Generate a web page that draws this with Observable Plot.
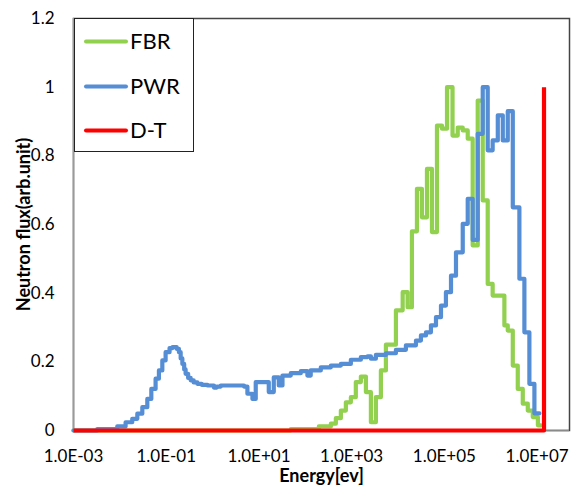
<!DOCTYPE html>
<html>
<head>
<meta charset="utf-8">
<script src="https://cdn.jsdelivr.net/npm/d3@7"></script>
<script src="https://cdn.jsdelivr.net/npm/@observablehq/plot@0.6"></script>
<style>
  html, body { margin: 0; padding: 0; background: #fff; }
  #wrap { position: relative; width: 574px; height: 491px; font-family: Lato, "Open Sans", sans-serif; }
  #legend { position: absolute; left: 74px; top: 18px; width: 120px; height: 134px; box-sizing: border-box; border: 1.5px solid #222; background: #fff; }
</style>
</head>
<body>
<div id="wrap"><div id="legend"></div></div>
<script>
// ---- data ----
const seriesNames = ["FBR", "PWR", "D-T"];
const seriesColors = ["#92D050", "#558ED5", "#FF0000"];

const xTickValues = [1e-3, 1e-1, 1e1, 1e3, 1e5, 1e7];
const xTickLabels = ["1.0E-03", "1.0E-01", "1.0E+01", "1.0E+03", "1.0E+05", "1.0E+07"];
const yTickValues = [0, 0.2, 0.4, 0.6, 0.8, 1, 1.2];
const yTickLabels = ["0", "0.2", "0.4", "0.6", "0.8", "1", "1.2"];

// FBR (bin left edges, eV) and flux
const fbrEnergy = [1e-3, 48.6, 196, 356, 456, 585, 750, 961, 1230, 1580, 2030, 2600, 3330, 4270, 5480, 9010,
  12600, 16100, 19950, 25600, 32800, 42100, 54000, 69200, 88800, 114000, 150000, 194000, 249000, 319000,
  408000, 524000, 672000, 861000, 1.10e6, 1.97e6, 2.33e6, 2.99e6, 3.83e6, 4.91e6, 6.30e6, 8.07e6, 1.04e7, 1.22e7];
const fbrFlux = [0, 0.004, 0.012, 0.02, 0.036, 0.058, 0.082, 0.097, 0.141, 0.157, 0.112, 0.024, 0.097, 0.175, 0.25, 0.35,
  0.403, 0.359, 0.58, 0.704, 0.621, 0.762, 0.578, 0.888, 0.879, 1.0, 0.859, 0.882, 0.874, 0.85,
  0.539, 0.961, 0.67, 0.427, 0.393, 0.306, 0.291, 0.189, 0.121, 0.078, 0.058, 0.039, 0.015, 0.015];

// PWR
const pwrEnergy = [1e-3, 3.25e-3, 8.79e-3, 1.33e-2, 1.85e-2, 2.38e-2, 3.05e-2, 3.91e-2, 4.77e-2, 5.90e-2, 6.96e-2,
  8.24e-2, 9.70e-2, 0.118, 0.137, 0.168, 0.188, 0.205, 0.223, 0.244, 0.262, 0.297, 0.337, 0.391, 0.470, 0.582,
  0.773, 1.07, 1.23, 1.50, 2.46, 4.77, 5.64, 7.24, 8.53, 16.3, 20.9, 26.8, 32.2, 48.6, 80.0, 111, 131, 216, 356,
  585, 961, 1580, 2210, 2600, 3330, 5480, 9010, 14800, 24400, 31200, 40100, 51300, 65900, 84500, 108000,
  139000, 178000, 249000, 319000, 408000, 524000, 672000, 861000, 1.10e6, 1.42e6, 1.82e6, 2.33e6, 2.99e6,
  4.15e6, 5.32e6, 6.82e6, 8.75e6, 1.12e7];
const pwrFlux = [0, 0.004, 0.012, 0.024, 0.034, 0.049, 0.068, 0.092, 0.121, 0.151, 0.175,
  0.204, 0.228, 0.24, 0.243, 0.238, 0.228, 0.21, 0.194, 0.178, 0.165, 0.153, 0.146, 0.14, 0.136, 0.133,
  0.131, 0.125, 0.128, 0.131, 0.131, 0.128, 0.107, 0.092, 0.141, 0.112, 0.155, 0.131, 0.16, 0.167, 0.173, 0.16, 0.175, 0.184, 0.189,
  0.194, 0.206, 0.214, 0.216, 0.209, 0.220, 0.225, 0.235, 0.248, 0.262, 0.277, 0.286, 0.306, 0.330, 0.364, 0.403,
  0.451, 0.519, 0.602, 0.675, 0.555, 0.864, 1.0, 0.816, 0.845, 0.918, 0.845, 0.93, 0.65,
  0.442, 0.286, 0.136, 0.05, 0.05];

// D-T (14.1 MeV line)
const dtEnergy = [1e-3, 1.41e7, 1.41e7];
const dtFlux = [0, 0, 1];

const toRows = (es, fs) => es.map((e, i) => ({e, f: fs[i]}));
const fbr = toRows(fbrEnergy, fbrFlux);
const pwr = toRows(pwrEnergy, pwrFlux);
const dt = toRows(dtEnergy, dtFlux);

const lineStyle = {strokeWidth: 4.2, strokeLinejoin: "round", strokeLinecap: "round"};

const chart = Plot.plot({
  width: 574,
  height: 491,
  marginLeft: 73,
  marginRight: 5,
  marginTop: 18,
  marginBottom: 61,
  style: {fontFamily: "Lato, 'Open Sans', sans-serif", fontSize: "17px", color: "#000", background: "transparent"},
  x: {type: "log", domain: [1e-3, 5e7]},
  y: {domain: [0, 1.2]},
  marks: [
    Plot.frame({stroke: "#444", strokeWidth: 1.5}),
    Plot.ruleX([1e-3], {stroke: "#9a9a9a", strokeWidth: 1.5}),
    Plot.ruleY([0], {stroke: "#8a8a8a", strokeWidth: 1.5}),
    Plot.axisX({ticks: xTickValues, tickFormat: d => xTickLabels[xTickValues.indexOf(d)], tickSize: 0, tickPadding: 19, label: null, fontSize: 17}),
    Plot.axisY({ticks: yTickValues, tickFormat: d => yTickLabels[yTickValues.indexOf(d)], tickSize: 0, tickPadding: 19, label: null, fontSize: 17}),
    Plot.text(["Energy[ev]"], {frameAnchor: "bottom", lineAnchor: "middle", textAnchor: "middle", dy: 46, fontWeight: "bold", fontSize: 18, text: d => d}),
    Plot.text(["Neutron flux(arb.unit)"], {frameAnchor: "left", lineAnchor: "middle", textAnchor: "middle", dx: -49, rotate: -90, fontWeight: "bold", fontSize: 18, text: d => d}),
    Plot.line(fbr, {x: "e", y: "f", curve: "step-after", stroke: seriesColors[0], ...lineStyle}),
    Plot.line(pwr, {x: "e", y: "f", curve: "step-after", stroke: seriesColors[1], ...lineStyle}),
    Plot.line(dt, {x: "e", y: "f", stroke: seriesColors[2], ...lineStyle, strokeLinecap: "butt"})
  ]
});
const wrap = document.getElementById("wrap");
wrap.insertBefore(chart, wrap.firstChild);

// legend
const lg = d3.select("#legend").append("svg").attr("width", 117).attr("height", 131).style("display", "block");
const rowY = [22.5, 67.5, 111.5];
seriesNames.forEach((name, i) => {
  lg.append("line").attr("x1", 11).attr("x2", 51).attr("y1", rowY[i]).attr("y2", rowY[i])
    .attr("stroke", seriesColors[i]).attr("stroke-width", 4).attr("stroke-linecap", "round");
  lg.append("text").attr("x", 55).attr("y", rowY[i]).attr("dy", "0.36em")
    .attr("font-family", "Lato, 'Open Sans', sans-serif").attr("font-size", 22).attr("fill", "#000").text(name);
});
</script>
</body>
</html>
